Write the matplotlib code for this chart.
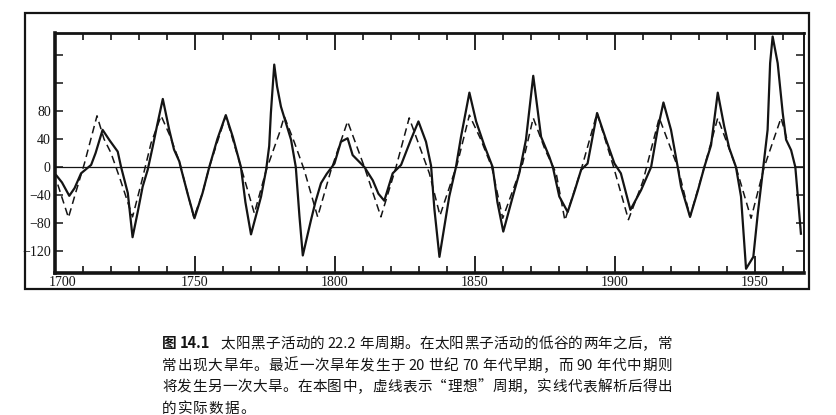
import matplotlib
matplotlib.use('Agg')
import matplotlib.pyplot as plt
import matplotlib.patches as patches
import matplotlib.transforms as mtransforms

solid_years = [1700.5, 1702.5, 1705.1, 1707, 1709.3, 1712.9, 1714.5, 1717, 1719.5, 1722.4,
               1723.6, 1726, 1727.7, 1729.5, 1731.3, 1733.1, 1734.9, 1736.5, 1738.5, 1740.8,
               1742.5, 1744.4, 1745, 1747.5, 1749.8, 1752.7, 1755.1, 1758, 1761, 1763.5,
               1766.4, 1768, 1770, 1773.6, 1775.4, 1776.5, 1777.1, 1778.3, 1779.3, 1780.7,
               1784.3, 1786, 1787.3, 1788.5, 1790, 1791.4, 1793, 1795, 1797, 1799.8,
               1802.1, 1804.5, 1806.3, 1810.5, 1813.5, 1815.5, 1817.6, 1820.6, 1823.6, 1827.1,
               1829.8, 1832.5, 1834.3, 1835.5, 1837.3, 1840.8, 1843.2, 1845, 1848, 1850.4,
               1853.3, 1856.3, 1858, 1860.1, 1863.5, 1865.8, 1868.2, 1870.8, 1873.6, 1876.5,
               1877.8, 1880.1, 1883.1, 1885.5, 1887.9, 1890.2, 1893.6, 1896.8, 1899.8, 1902.1,
               1905.5, 1909.3, 1912.9, 1915.2, 1917.3, 1920, 1922.4, 1923.6, 1926.8, 1929.5,
               1931.9, 1934.3, 1936.7, 1939, 1940.8, 1943.2, 1945, 1946.8, 1949.4, 1951,
               1952.7, 1954.5, 1955.4, 1956.3, 1958.1, 1959.9, 1961.1, 1962.9, 1964.4, 1965.3,
               1966.4]
solid_vals = [-12, -22, -41, -30, -9, 3, 20, 53, 38, 22,
              0, -37, -100, -65, -28, -4, 29, 60, 97, 53,
              25, 8, -2, -40, -73, -37, 0, 40, 74, 43,
              0, -50, -96, -42, -4, 30, 77, 146, 115, 86,
              39, 0, -70, -126, -100, -76, -50, -23, -10, 5,
              36, 41, 17, 0, -19, -38, -48, -9, 3, 39,
              65, 36, 2, -60, -128, -42, 0, 43, 106, 65,
              31, 0, -50, -92, -42, -9, 39, 130, 43, 15,
              0, -42, -64, -35, -4, 5, 77, 39, 5, -9,
              -61, -33, 0, 53, 92, 53, 0, -28, -71, -35,
              0, 31, 106, 58, 27, 0, -42, -145, -128, -66,
              -9, 53, 148, 186, 148, 77, 39, 24, 0, -42,
              -95]

# "ideal" 22.2-year cycle (dashed line)
ideal_years = [1701, 1704.8, 1707.5, 1710.5, 1715, 1717.5, 1720, 1723.5, 1727.7, 1731,
               1734.3, 1737.9, 1741, 1744.4, 1749.6, 1752.7, 1755.1, 1761, 1766.4, 1771.2,
               1775.4, 1780.1, 1781.9, 1785.5, 1789, 1793.8, 1798.6, 1804.5, 1810.5, 1816.4,
               1821.8, 1826.5, 1833.7, 1837.5, 1843.7, 1848, 1852, 1856, 1859.9, 1867,
               1870.8, 1875, 1879, 1882.1, 1887.9, 1893.6, 1899.5, 1904.8, 1910, 1915.8,
               1922.4, 1926.8, 1931.9, 1936.7, 1943.2, 1948.6, 1953.3, 1959.3, 1961.5]
ideal_vals = [-25, -72, -35, 5, 73, 40, 20, -20, -71, -20,
              34, 73, 45, 8, -72, -37, 0, 73, 0, -66,
              -5, 48, 72, 35, -4, -71, -4, 65, 0, -71,
              0, 70, -9, -69, 5, 74, 40, 0, -73, 5,
              70, 25, -9, -76, -4, 77, 0, -75, -20, 70,
              0, -71, 0, 70, 0, -73, 0, 70, 38]

y_ticks = [-120, -80, -40, 0, 40, 80, 120, 160]
y_labels = ['\u2212120', '\u221280', '\u221240', '0', '40', '80', '', '']
x_major = [1700, 1750, 1800, 1850, 1900, 1950]
x_minor = list(range(1710, 1970, 10))

caption_head = '图 14.1'
caption_lines = ['太阳黑子活动的 22.2 年周期。在太阳黑子活动的低谷的两年之后，常',
                 '常出现大旱年。最近一次旱年发生于 20 世纪 70 年代早期，而 90 年代中期则',
                 '将发生另一次大旱。在本图中，虚线表示“理想”周期，实线代表解析后得出',
                 '的实际数据。']

W, H = 837, 415
fig = plt.figure(figsize=(W / 100, H / 100), dpi=100)
ax = fig.add_axes([55 / W, 1 - 273 / H, (804 - 55) / W, (273 - 33) / H])

ink = '#141414'
ax.plot(solid_years, solid_vals, color=ink, lw=1.6, solid_joinstyle='round')
ax.plot(ideal_years, ideal_vals, color=ink, lw=1.1, dashes=(5, 3))
ax.axhline(0, color=ink, lw=0.9)

ax.set_xlim(1700, 1967.5)
ax.set_ylim(-151, 191)

ax.set_xticks(x_major)
ax.set_xticks(x_minor, minor=True)
ax.set_yticks(y_ticks)
ax.set_yticklabels(y_labels)

serif = 'Liberation Serif'
ax.tick_params(axis='x', which='major', direction='in', length=12, width=1.3,
               top=True, pad=2, labelsize=10, colors=ink)
ax.tick_params(axis='x', which='minor', direction='in', length=5, width=1.1, top=True)
ax.tick_params(axis='y', direction='in', length=6, width=1.1, right=True,
               pad=3, labelsize=10, colors=ink)
for lab in ax.get_xticklabels() + ax.get_yticklabels():
    lab.set_family(serif)
# shift "1700" off the corner as in the print
first = ax.get_xticklabels()[0]
first.set_transform(first.get_transform() +
                    mtransforms.ScaledTranslation(8 / 100, 0, fig.dpi_scale_trans))

ax.spines['left'].set_linewidth(2.6)
ax.spines['bottom'].set_linewidth(2.6)
ax.spines['top'].set_linewidth(2.0)
ax.spines['right'].set_linewidth(1.4)
for s in ax.spines.values():
    s.set_color(ink)

# outer frame round the figure
frame = patches.Rectangle((25 / W, 1 - 289 / H), (809 - 25) / W, (289 - 13) / H,
                          transform=fig.transFigure, fill=False, lw=1.6, edgecolor=ink)
fig.patches.append(frame)

# caption, set as justified CJK text (one token per character, numbers kept whole)
cjk = ['Noto Sans CJK SC', 'DejaVu Sans']
cap_size = 10.5
left_px, right_px = 162, 672
baselines = [348, 370, 391, 413]


def tokenize(s, weight):
    out = []
    run = ''
    pad = 0
    for ch in s:
        if ch == ' ':
            if run:
                out.append([run, weight, pad])
                run, pad = '', 0
            pad += 3
        elif ord(ch) < 128:
            run += ch
        else:
            if run:
                out.append([run, weight, pad])
                run, pad = '', 0
            out.append([ch, weight, pad])
            pad = 0
    if run:
        out.append([run, weight, pad])
    return out


renderer = fig.canvas.get_renderer()
for i, line in enumerate(caption_lines):
    toks = tokenize(line, 'normal')
    if i == 0:
        toks = tokenize(caption_head, 'bold') + [[t[0], t[1], t[2] + (10 if j == 0 else 0)]
                                                  for j, t in enumerate(toks)]
    y = 1 - baselines[i] / H
    items = []
    for s, w, pad in toks:
        t = fig.text(0, y, s, family=cjk, fontsize=cap_size, fontweight=w,
                     va='baseline', ha='left', color=ink)
        wpx = t.get_window_extent(renderer).width
        items.append((t, wpx, pad))
    total = sum(wpx + pad for _, wpx, pad in items)
    if i < len(caption_lines) - 1:
        gap = (right_px - left_px - total) / (len(items) - 1)
    else:
        gap = 1.0
    x = left_px
    for t, wpx, pad in items:
        x += pad
        t.set_x(x / W)
        x += wpx + gap

fig.savefig('out.png', dpi=100)
